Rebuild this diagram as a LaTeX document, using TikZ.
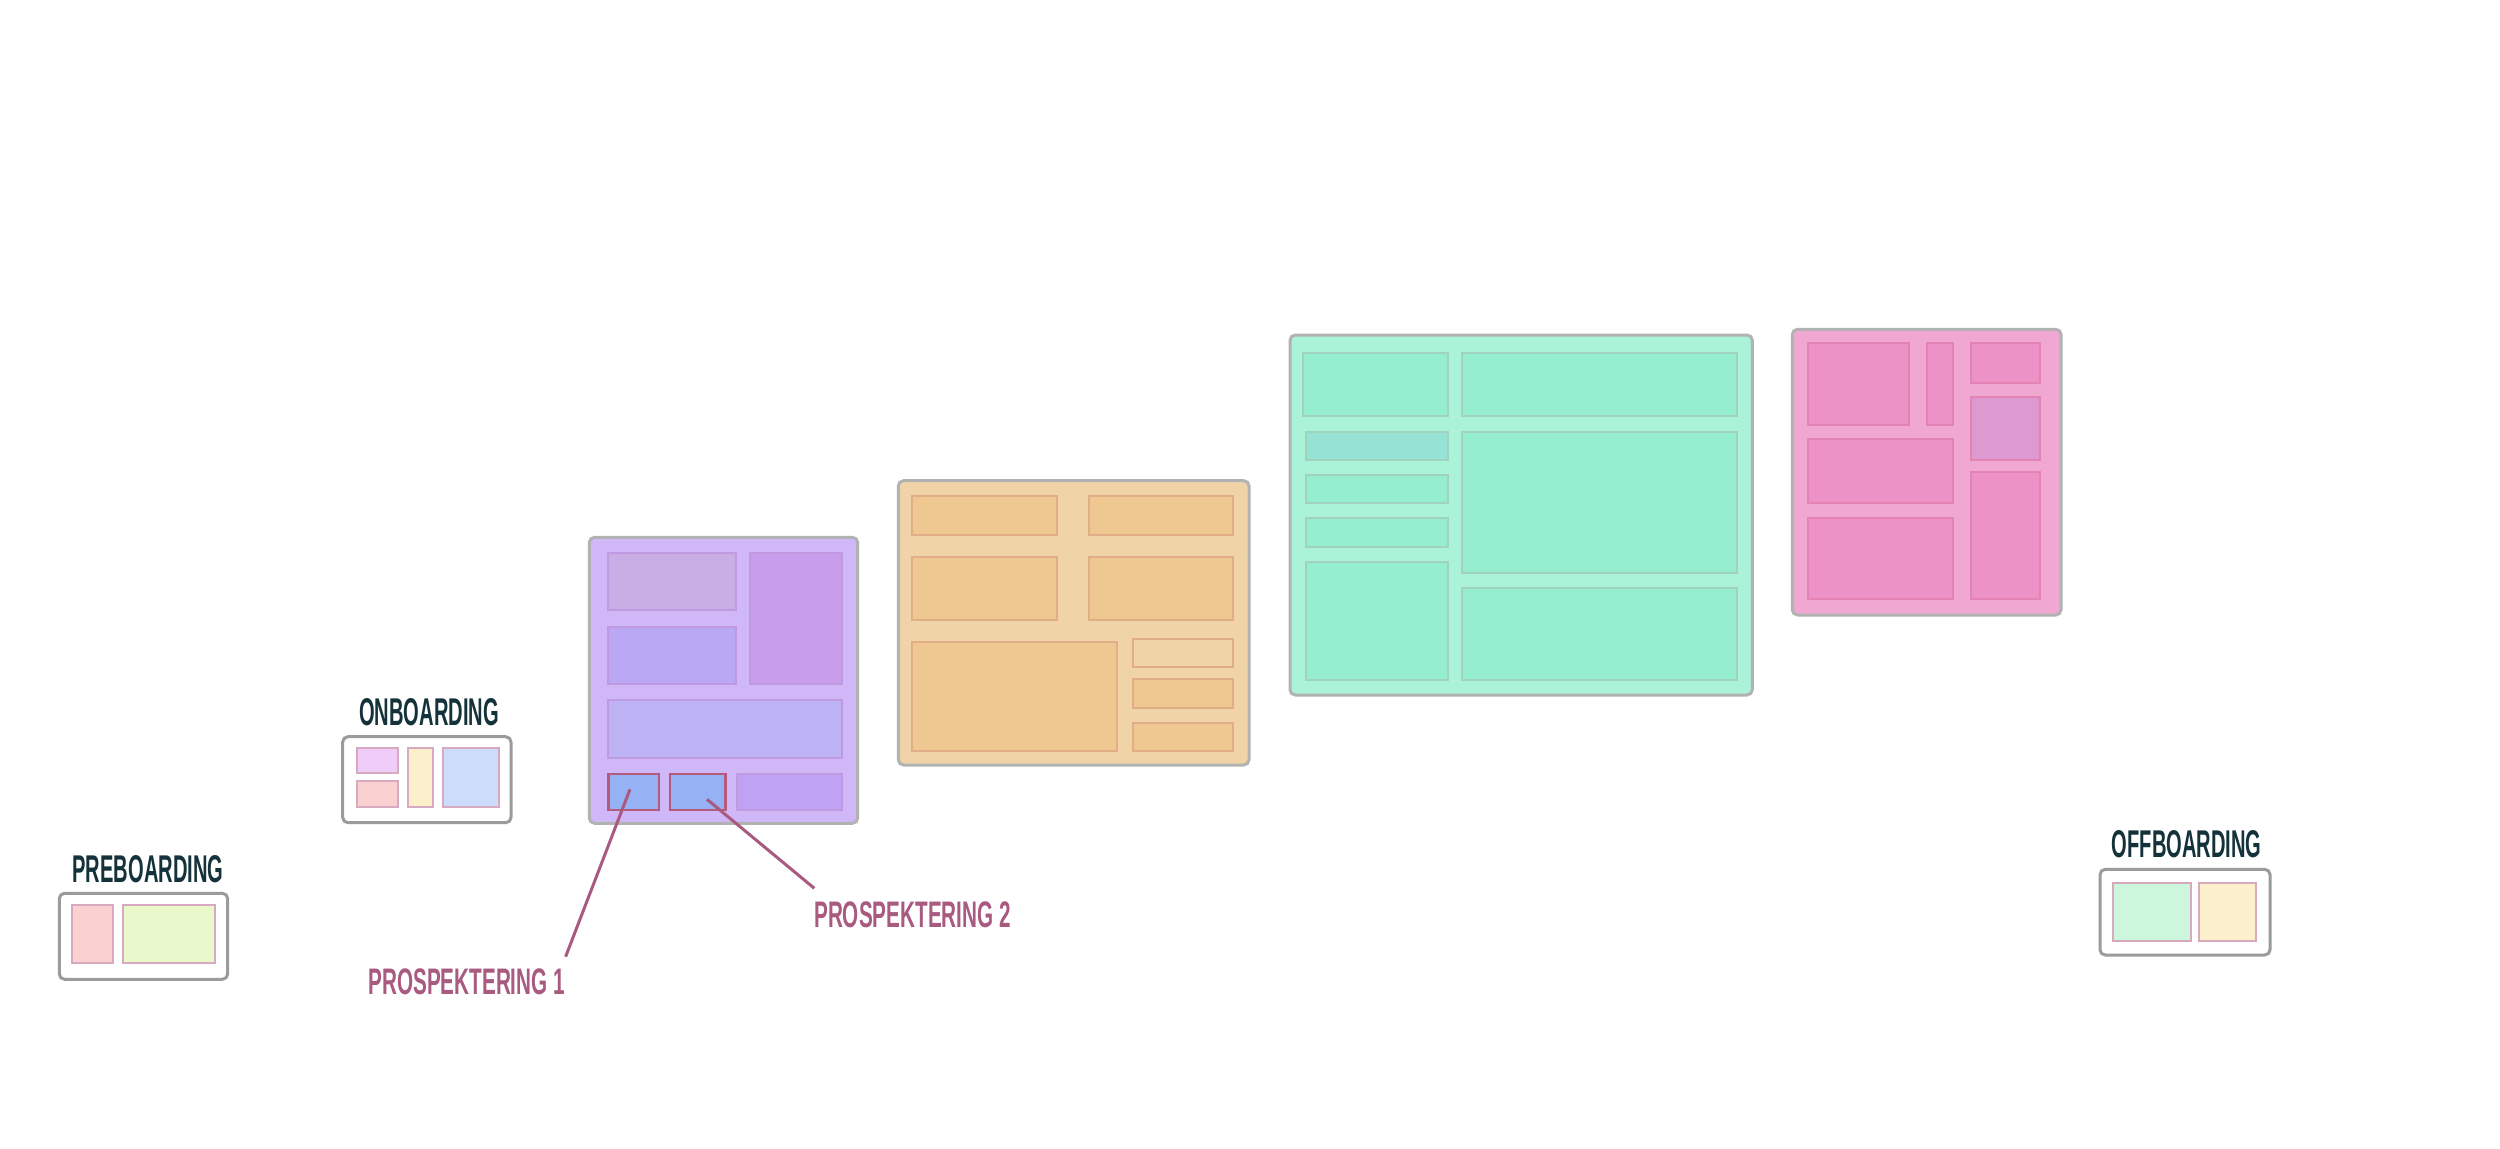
\documentclass[tikz,border=0pt]{standalone}
\usepackage{fontspec}
\usetikzlibrary{fit}
\newfontfamily\bebas[FakeStretch=0.52,BoldFeatures={FakeStretch=0.52}]{Liberation Sans}
\newfontfamily\bebaslab[FakeStretch=0.56,BoldFeatures={FakeStretch=0.56}]{Liberation Sans}
\definecolor{titlec}{RGB}{20,50,58}
\definecolor{labc}{RGB}{168,90,128}
\definecolor{outerb}{RGB}{155,155,155}
\definecolor{boardb}{RGB}{178,178,178}
\definecolor{smallb}{RGB}{216,170,192}
\definecolor{sPink}{RGB}{251,208,208}
\definecolor{sLime}{RGB}{234,249,204}
\definecolor{sLilac}{RGB}{240,204,248}
\definecolor{sYel}{RGB}{251,239,204}
\definecolor{sBlue}{RGB}{204,220,251}
\definecolor{sMint}{RGB}{204,247,220}
\definecolor{pBoard}{RGB}{208,184,248}
\definecolor{pA}{RGB}{200,174,228}
\definecolor{pB}{RGB}{200,158,236}
\definecolor{pC}{RGB}{186,168,244}
\definecolor{pD}{RGB}{188,178,244}
\definecolor{pG}{RGB}{192,162,244}
\definecolor{pE}{RGB}{150,178,244}
\definecolor{pBord}{RGB}{192,154,224}
\definecolor{pRed}{RGB}{180,90,125}
\definecolor{oBoard}{RGB}{240,212,168}
\definecolor{oIn}{RGB}{238,200,144}
\definecolor{oBord}{RGB}{226,174,136}
\definecolor{gBoard}{RGB}{170,242,216}
\definecolor{gIn}{RGB}{150,238,208}
\definecolor{gTeal}{RGB}{150,226,212}
\definecolor{gBord}{RGB}{160,210,190}
\definecolor{kBoard}{RGB}{240,168,210}
\definecolor{kIn}{RGB}{236,146,198}
\definecolor{kLil}{RGB}{220,154,208}
\definecolor{kBord}{RGB}{228,130,180}
\tikzset{
  rbox/.style={inner sep=0pt, outer sep=0pt, rectangle},
  smallouter/.style={rbox, draw=outerb, fill=white, line width=0.85pt, rounded corners=1.5pt},
  board/.style={rbox, draw=boardb, line width=0.85pt, rounded corners=1.5pt},
  smallin/.style={rbox, draw=smallb, line width=0.6pt},
  title/.style={inner sep=0pt, text=titlec, font=\bebas\bfseries\fontsize{11}{12}\selectfont},
  label/.style={inner sep=0pt, text=labc, font=\bebaslab\bfseries\fontsize{10.5}{11}\selectfont},
  leader/.style={draw=labc, line width=0.85pt}
}
\begin{document}
\begin{tikzpicture}[x=0.01cm,y=-0.01cm]
\useasboundingbox[fill=white] (0,0) rectangle (2500,1148);

% PREBOARDING
\node[title] (tpre) at (148,869) {PREBOARDING};
\node[smallouter, fit={(59.3,893.3) (227.7,979.3)}] (pre) {};
\node[smallin, fill=sPink, fit={(72.3,905) (113.3,962.7)}] (pre1) {};
\node[smallin, fill=sLime, fit={(123.3,905) (215,962.7)}] (pre2) {};

% ONBOARDING
\node[title] (ton) at (429,712.5) {ONBOARDING};
\node[smallouter, fit={(342.7,736.7) (511,822.7)}] (on) {};
\node[smallin, fill=sLilac, fit={(356.7,748.3) (397.7,773.3)}] (on1) {};
\node[smallin, fill=sPink, fit={(356.7,780.7) (397.7,806.7)}] (on2) {};
\node[smallin, fill=sYel, fit={(407.7,748.3) (432.7,806.7)}] (on3) {};
\node[smallin, fill=sBlue, fit={(442.7,748.3) (499.3,806.7)}] (on4) {};

% PURPLE BOARD
\node[board, fill=pBoard, fit={(589.3,537.3) (857.7,823.3)}] (pb) {};
\node[rbox, draw=pBord, line width=0.6pt, fill=pA, fit={(608.3,552.7) (736,610)}] (pbA) {};
\node[rbox, draw=pBord, line width=0.6pt, fill=pB, fit={(750,552.7) (841.7,684.3)}] (pbB) {};
\node[rbox, draw=pBord, line width=0.6pt, fill=pC, fit={(608.3,626.7) (736,684.3)}] (pbC) {};
\node[rbox, draw=pBord, line width=0.6pt, fill=pD, fit={(608.3,700) (841.7,757.7)}] (pbD) {};
\node[rbox, draw=pRed, line width=0.75pt, fill=pE, fit={(608.3,774) (659,810)}] (pbE) {};
\node[rbox, draw=pRed, line width=0.75pt, fill=pE, fit={(670,774) (725.7,810)}] (pbF) {};
\node[rbox, draw=pBord, line width=0.6pt, fill=pG, fit={(737.3,774) (841.7,810)}] (pbG) {};

% ORANGE BOARD
\node[board, fill=oBoard, fit={(898.3,480.7) (1249,765)}] (ob) {};
\begin{scope}[every node/.style={rbox, draw=oBord, line width=0.6pt, fill=oIn}]
\node[fit={(912.3,495.7) (1056.7,535)}] (ob1) {};
\node[fit={(1089,495.7) (1233.3,535)}] (ob2) {};
\node[fit={(912.3,557.3) (1056.7,620)}] (ob3) {};
\node[fit={(1089,557.3) (1233.3,620)}] (ob4) {};
\node[fit={(912.3,642.3) (1116.7,751)}] (ob5) {};
\node[fill=oBoard, fit={(1132.7,639) (1233.3,667.3)}] (ob6) {};
\node[fit={(1132.7,679.3) (1233.3,707.7)}] (ob7) {};
\node[fit={(1132.7,722.7) (1233.3,751)}] (ob8) {};
\end{scope}

% GREEN BOARD
\node[board, fill=gBoard, fit={(1290,335) (1752.3,695)}] (gb) {};
\begin{scope}[every node/.style={rbox, draw=gBord, line width=0.6pt, fill=gIn}]
\node[fit={(1303.3,353.3) (1447.7,416)}] (gb1) {};
\node[fit={(1462.3,353.3) (1736.7,416)}] (gb2) {};
\node[fill=gTeal, fit={(1306,431.7) (1447.7,460)}] (gb3) {};
\node[fit={(1306,475) (1447.7,503.3)}] (gb4) {};
\node[fit={(1306,518.3) (1447.7,546.7)}] (gb5) {};
\node[fit={(1306,561.7) (1447.7,680)}] (gb6) {};
\node[fit={(1462.3,431.7) (1736.7,573.3)}] (gb7) {};
\node[fit={(1462.3,588.3) (1736.7,680)}] (gb8) {};
\end{scope}

% PINK BOARD
\node[board, fill=kBoard, fit={(1792.3,329.3) (2061,615)}] (kb) {};
\begin{scope}[every node/.style={rbox, draw=kBord, line width=0.6pt, fill=kIn}]
\node[fit={(1807.7,343.3) (1909.3,425)}] (kb1) {};
\node[fit={(1927.3,343.3) (1953.3,425)}] (kb2) {};
\node[fit={(1971,343.3) (2040,383.3)}] (kb3) {};
\node[fill=kLil, fit={(1971,396.7) (2040,460)}] (kb4) {};
\node[fit={(1807.7,439.3) (1953.3,503.3)}] (kb5) {};
\node[fit={(1807.7,518.3) (1953.3,599.3)}] (kb6) {};
\node[fit={(1971,472.3) (2040,599.3)}] (kb7) {};
\end{scope}

% OFFBOARDING
\node[title] (toff) at (2186.7,844) {OFFBOARDING};
\node[smallouter, fit={(2100,869.3) (2270,955)}] (off) {};
\node[smallin, fill=sMint, fit={(2113.3,882.7) (2190.7,941)}] (off1) {};
\node[smallin, fill=sYel, fit={(2199,882.7) (2256,941)}] (off2) {};

% LABELS
\node[label] (lab1) at (466.7,981.3) {PROSPEKTERING 1};
\node[label] (lab2) at (912.5,915) {PROSPEKTERING 2};
\coordinate (e1) at (630,789.3);
\coordinate (f1) at (707,799.3);
\coordinate (l1) at (565.6,956.7);
\coordinate (l2) at (814.3,888.3);
\draw[leader] (e1) -- (l1);
\draw[leader] (f1) -- (l2);
\end{tikzpicture}
\end{document}
